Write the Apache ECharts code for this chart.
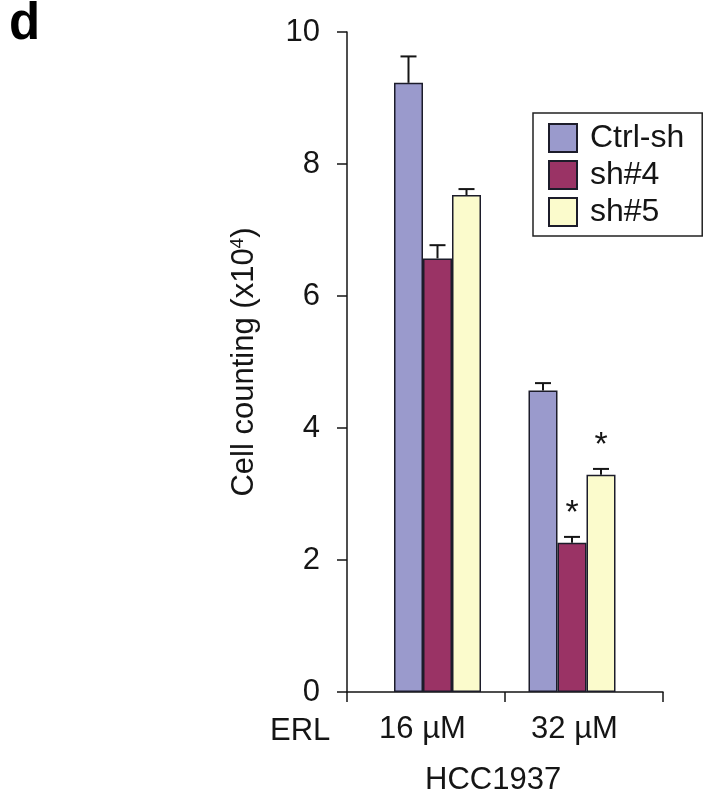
<!DOCTYPE html>
<html>
<head>
<meta charset="utf-8">
<script src="https://cdn.jsdelivr.net/npm/echarts@6/dist/echarts.min.js"></script>
<style>html,body{margin:0;padding:0;background:#fff}#c{width:704px;height:800px}</style>
</head>
<body>
<div id="c"></div>
<script>
const categories = ['16 µM', '32 µM'];
const seriesNames = ['Ctrl-sh', 'sh#4', 'sh#5'];
const ctrlValues = [9.23, 4.57];
const sh4Values = [6.57, 2.26];
const sh5Values = [7.53, 3.29];
const ctrlErr = [0.40, 0.11];
const sh4Err = [0.20, 0.09];
const sh5Err = [0.09, 0.09];
const ctrlSig = [false, false];
const sh4Sig = [false, true];
const sh5Sig = [false, true];
const yMin = 0, yMax = 10, yStep = 2;

const FONT = 'Liberation Sans, Arial, sans-serif';
const FS = 31;
const INK = '#151515';
const colors = ['#9a9acc', '#9a3365', '#fbfbcc'];
const BAR_W = 29;

const values = [ctrlValues, sh4Values, sh5Values];
const errs = [ctrlErr, sh4Err, sh5Err];
const sigs = [ctrlSig, sh4Sig, sh5Sig];

const errData = [];
values.forEach((vals, s) => vals.forEach((v, i) => errData.push([i, v, errs[s][i], s, sigs[s][i] ? 1 : 0])));

const chart = echarts.init(document.getElementById('c'));
const barSeries = seriesNames.map((name, s) => ({
  name, type: 'bar', xAxisIndex: 1, yAxisIndex: 1,
  barWidth: BAR_W, barGap: '0%',
  data: values[s],
  itemStyle: { color: colors[s], borderColor: '#1c1c2a', borderWidth: 1.5 },
  emphasis: { disabled: true }, animation: false
}));

chart.setOption({
  animation: false,
  grid: [
    { left: 347, right: 41, top: 32, bottom: 108 },
    { left: 370.25, right: 64.75, top: 32, bottom: 108 }
  ],
  xAxis: [
    { type: 'category', gridIndex: 0, data: categories,
      axisLine: { show: true, lineStyle: { color: INK, width: 1.5 } },
      axisTick: { show: true, alignWithLabel: false, interval: 0, length: 10, lineStyle: { color: INK, width: 1.5 } },
      axisLabel: { show: true, interval: 0, margin: 22, color: INK, fontFamily: FONT, fontSize: FS,
        formatter: (v, i) => i === 0 ? '{a|' + v + '}' : '{b|' + v + '}',
        rich: { a: { fontFamily: FONT, fontSize: FS, color: INK, padding: [0, 7, 0, 0] },
                b: { fontFamily: FONT, fontSize: FS, color: INK, padding: [0, 19, 0, 0] } } } },
    { type: 'category', gridIndex: 1, data: categories, show: false }
  ],
  yAxis: [
    { type: 'value', gridIndex: 0, min: yMin, max: yMax, interval: yStep,
      splitLine: { show: false },
      axisLine: { show: true, lineStyle: { color: INK, width: 1.5 } },
      axisTick: { show: true, length: 10, lineStyle: { color: INK, width: 1.5 } },
      axisLabel: { margin: 27, color: INK, fontFamily: FONT, fontSize: FS },
      name: '{a|Cell counting (x10}{s|4}{a|)}', nameLocation: 'middle', nameGap: 87,
      nameTextStyle: { rich: { a: { fontFamily: FONT, fontSize: FS, color: INK },
                               s: { fontFamily: FONT, fontSize: 19, color: INK, verticalAlign: 'top', padding: [0, 0, 13, 0] } } } },
    { type: 'value', gridIndex: 1, min: yMin, max: yMax, show: false }
  ],
  legend: {
    orient: 'vertical', left: 533, top: 113,
    itemWidth: 28, itemHeight: 28, itemGap: 5,
    padding: [9, 18, 8, 15],
    borderColor: '#222', borderWidth: 1.5,
    icon: 'rect',
    textStyle: { fontFamily: FONT, fontSize: 32, color: INK, padding: [0, 0, 0, 8] },
    data: seriesNames, selectedMode: false
  },
  graphic: [
    { type: 'text', left: 9, top: -1, style: { text: 'd', font: 'bold 51px ' + FONT, fill: '#000' } },
    { type: 'text', left: 270, top: 716, style: { text: 'ERL', font: FS + 'px ' + FONT, fill: INK } },
    { type: 'text', left: 425, top: 765, style: { text: 'HCC1937', font: FS + 'px ' + FONT, fill: INK } }
  ],
  series: [
    ...barSeries,
    { type: 'custom', xAxisIndex: 1, yAxisIndex: 1, data: errData, z: 5, silent: true,
      renderItem: (params, api) => {
        const cat = api.value(0), v = api.value(1), e = api.value(2), s = api.value(3), sig = api.value(4);
        const base = api.coord([cat, v]);
        const top = api.coord([cat, v + e]);
        const x = base[0] + (s - 1) * BAR_W;
        const children = [
          { type: 'line', shape: { x1: x, y1: base[1], x2: x, y2: top[1] }, style: { stroke: INK, lineWidth: 2 } },
          { type: 'line', shape: { x1: x - 8, y1: top[1], x2: x + 8, y2: top[1] }, style: { stroke: INK, lineWidth: 2 } }
        ];
        if (sig) children.push({ type: 'text', x: x, y: top[1] - 6,
          style: { text: '*', font: '34px ' + FONT, fill: INK, align: 'center', verticalAlign: 'bottom' } });
        return { type: 'group', children };
      } }
  ]
});
</script>
</body>
</html>
